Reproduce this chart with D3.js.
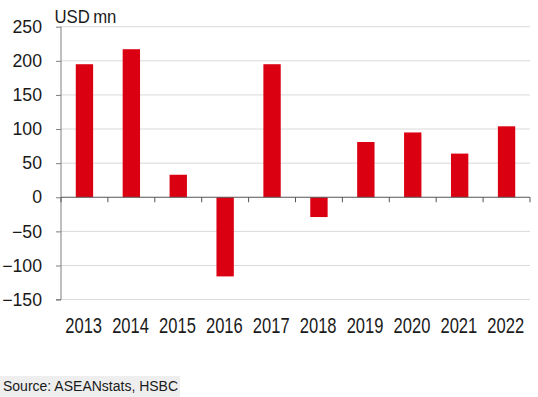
<!DOCTYPE html>
<html>
<head>
<meta charset="utf-8">
<script src="https://cdn.jsdelivr.net/npm/d3@7"></script>
<style>
  body { margin: 0; background: #fff; }
  text { font-family: "Liberation Sans", Arial, sans-serif; fill: #1a1a1a; }
</style>
</head>
<body>
<svg id="chart" width="538" height="397"></svg>
<script>
const years = ["2013", "2014", "2015", "2016", "2017", "2018", "2019", "2020", "2021", "2022"];
const values = [195, 217, 33, -116, 195, -29, 81, 95, 64, 104];
const yTicks = [-150, -100, -50, 0, 50, 100, 150, 200, 250];

const svg = d3.select("#chart");
const plotLeft = 61, plotRight = 530, plotTop = 26.7, plotBottom = 299.6;

const x = d3.scaleBand()
  .domain(years)
  .range([plotLeft, plotRight])
  .paddingInner(0.63)
  .paddingOuter(0.315);

const y = d3.scaleLinear()
  .domain([-150, 250])
  .range([plotBottom, plotTop]);

// gridlines
svg.append("g")
  .selectAll("line")
  .data(yTicks.filter(d => d !== 0))
  .enter()
  .append("line")
  .attr("x1", plotLeft)
  .attr("x2", plotRight)
  .attr("y1", d => y(d))
  .attr("y2", d => y(d))
  .attr("stroke", "#d9d9d9")
  .attr("stroke-width", 1);

// bars
svg.append("g")
  .selectAll("rect")
  .data(values)
  .enter()
  .append("rect")
  .attr("x", (d, i) => x(years[i]))
  .attr("y", d => y(Math.max(0, d)))
  .attr("width", x.bandwidth())
  .attr("height", d => Math.abs(y(d) - y(0)))
  .attr("fill", "#db0011");

// y axis
const yAxis = svg.append("g")
  .attr("transform", "translate(" + plotLeft + ",0)")
  .call(d3.axisLeft(y).tickValues(yTicks).tickSize(5).tickPadding(14));
yAxis.select(".domain").attr("stroke", "#7f7f7f").attr("d", "M-5," + y(-150) + "H0V" + y(250));
yAxis.selectAll(".tick line").attr("stroke", "#7f7f7f");
yAxis.selectAll("text")
  .style("font-size", "17.7px")
  .attr("fill", "#1a1a1a");

// zero line with category ticks
const step = x.step();
const xAxis = svg.append("g").attr("transform", "translate(0," + y(0) + ")");
xAxis.append("line")
  .attr("x1", plotLeft).attr("x2", plotRight)
  .attr("stroke", "#555").attr("stroke-width", 1);
xAxis.selectAll(".cat-tick")
  .data(d3.range(years.length + 1))
  .enter()
  .append("line")
  .attr("x1", i => plotLeft + i * step)
  .attr("x2", i => plotLeft + i * step)
  .attr("y1", 0).attr("y2", 5)
  .attr("stroke", "#555");

// year labels at bottom (condensed face)
svg.append("g")
  .selectAll("text")
  .data(years)
  .enter()
  .append("text")
  .attr("transform", d => "translate(" + (x(d) + x.bandwidth() / 2 - 0.8) + ",333.3) scale(0.77,1)")
  .attr("text-anchor", "middle")
  .style("font-size", "21.5px")
  .text(d => d);

svg.append("text")
  .attr("transform", "translate(54.5,23.3) scale(0.9,1)")
  .style("font-size", "18.6px")
  .style("word-spacing", "-1.5px")
  .text("USD mn");

// source note
svg.append("rect")
  .attr("x", 0).attr("y", 376)
  .attr("width", 180).attr("height", 21)
  .attr("fill", "#eeeeee");
svg.append("text")
  .attr("x", 3)
  .attr("y", 391)
  .style("font-size", "14px")
  .text("Source: ASEANstats, HSBC");
</script>
</body>
</html>
